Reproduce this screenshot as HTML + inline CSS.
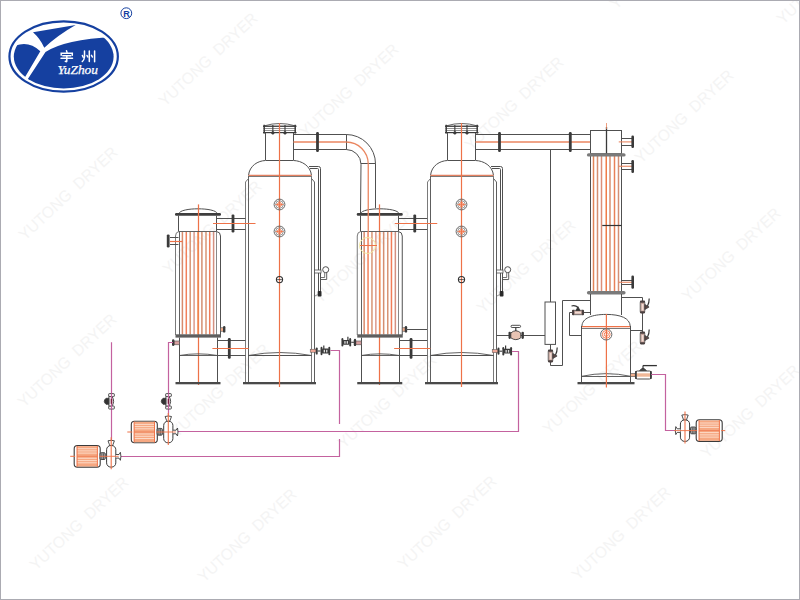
<!DOCTYPE html>
<html><head><meta charset="utf-8"><style>
html,body{margin:0;padding:0;background:#fff;}
body{width:800px;height:600px;overflow:hidden;position:relative;}
svg{position:absolute;left:0;top:0;}
</style></head><body>
<svg width="800" height="600" viewBox="0 0 800 600">
<rect x="0" y="0" width="800" height="600" fill="#fff"/>
<text x="616" y="10" transform="rotate(-43 616 10)" font-family="Liberation Sans, sans-serif" font-size="16" textLength="128" lengthAdjust="spacingAndGlyphs" fill="#f4f4f4">YUTONG&#160;&#160;DRYER</text>
<text x="783" y="25" transform="rotate(-43 783 25)" font-family="Liberation Sans, sans-serif" font-size="16" textLength="128" lengthAdjust="spacingAndGlyphs" fill="#f4f4f4">YUTONG&#160;&#160;DRYER</text>
<text x="24" y="408" transform="rotate(-43 24 408)" font-family="Liberation Sans, sans-serif" font-size="16" textLength="128" lengthAdjust="spacingAndGlyphs" fill="#f4f4f4">YUTONG&#160;&#160;DRYER</text>
<text x="177" y="438" transform="rotate(-43 177 438)" font-family="Liberation Sans, sans-serif" font-size="16" textLength="128" lengthAdjust="spacingAndGlyphs" fill="#f4f4f4">YUTONG&#160;&#160;DRYER</text>
<text x="320" y="304" transform="rotate(-43 320 304)" font-family="Liberation Sans, sans-serif" font-size="16" textLength="128" lengthAdjust="spacingAndGlyphs" fill="#f4f4f4">YUTONG&#160;&#160;DRYER</text>
<text x="483" y="314" transform="rotate(-43 483 314)" font-family="Liberation Sans, sans-serif" font-size="16" textLength="128" lengthAdjust="spacingAndGlyphs" fill="#f4f4f4">YUTONG&#160;&#160;DRYER</text>
<text x="344" y="449" transform="rotate(-43 344 449)" font-family="Liberation Sans, sans-serif" font-size="16" textLength="128" lengthAdjust="spacingAndGlyphs" fill="#f4f4f4">YUTONG&#160;&#160;DRYER</text>
<text x="25" y="241" transform="rotate(-43 25 241)" font-family="Liberation Sans, sans-serif" font-size="16" textLength="128" lengthAdjust="spacingAndGlyphs" fill="#f4f4f4">YUTONG&#160;&#160;DRYER</text>
<text x="165" y="107" transform="rotate(-43 165 107)" font-family="Liberation Sans, sans-serif" font-size="16" textLength="128" lengthAdjust="spacingAndGlyphs" fill="#f4f4f4">YUTONG&#160;&#160;DRYER</text>
<text x="306" y="138" transform="rotate(-43 306 138)" font-family="Liberation Sans, sans-serif" font-size="16" textLength="128" lengthAdjust="spacingAndGlyphs" fill="#f4f4f4">YUTONG&#160;&#160;DRYER</text>
<text x="471" y="151" transform="rotate(-43 471 151)" font-family="Liberation Sans, sans-serif" font-size="16" textLength="128" lengthAdjust="spacingAndGlyphs" fill="#f4f4f4">YUTONG&#160;&#160;DRYER</text>
<text x="641" y="164" transform="rotate(-43 641 164)" font-family="Liberation Sans, sans-serif" font-size="16" textLength="128" lengthAdjust="spacingAndGlyphs" fill="#f4f4f4">YUTONG&#160;&#160;DRYER</text>
<text x="688" y="302" transform="rotate(-43 688 302)" font-family="Liberation Sans, sans-serif" font-size="16" textLength="128" lengthAdjust="spacingAndGlyphs" fill="#f4f4f4">YUTONG&#160;&#160;DRYER</text>
<text x="549" y="435" transform="rotate(-43 549 435)" font-family="Liberation Sans, sans-serif" font-size="16" textLength="128" lengthAdjust="spacingAndGlyphs" fill="#f4f4f4">YUTONG&#160;&#160;DRYER</text>
<text x="36" y="571" transform="rotate(-43 36 571)" font-family="Liberation Sans, sans-serif" font-size="16" textLength="128" lengthAdjust="spacingAndGlyphs" fill="#f4f4f4">YUTONG&#160;&#160;DRYER</text>
<text x="204" y="583" transform="rotate(-43 204 583)" font-family="Liberation Sans, sans-serif" font-size="16" textLength="128" lengthAdjust="spacingAndGlyphs" fill="#f4f4f4">YUTONG&#160;&#160;DRYER</text>
<text x="404" y="570" transform="rotate(-43 404 570)" font-family="Liberation Sans, sans-serif" font-size="16" textLength="128" lengthAdjust="spacingAndGlyphs" fill="#f4f4f4">YUTONG&#160;&#160;DRYER</text>
<text x="578" y="581" transform="rotate(-43 578 581)" font-family="Liberation Sans, sans-serif" font-size="16" textLength="128" lengthAdjust="spacingAndGlyphs" fill="#f4f4f4">YUTONG&#160;&#160;DRYER</text>
<text x="707" y="459" transform="rotate(-43 707 459)" font-family="Liberation Sans, sans-serif" font-size="16" textLength="128" lengthAdjust="spacingAndGlyphs" fill="#f4f4f4">YUTONG&#160;&#160;DRYER</text>
<text x="169" y="275" transform="rotate(-43 169 275)" font-family="Liberation Sans, sans-serif" font-size="16" textLength="128" lengthAdjust="spacingAndGlyphs" fill="#f4f4f4">YUTONG&#160;&#160;DRYER</text>
<path d="M264.5,125.8 Q279.5,121.2 295,125.8" stroke="#555" stroke-width="0.9" fill="none" />
<rect x="263" y="125.6" width="33.5" height="1.3" fill="#3a3a3a" stroke="none" stroke-width="1" rx="0" />
<line x1="263.5" y1="128.5" x2="296" y2="128.5" stroke="#777" stroke-width="0.8"/>
<line x1="263.5" y1="130.5" x2="296" y2="130.5" stroke="#777" stroke-width="0.8"/>
<rect x="263" y="132" width="33.5" height="1.2" fill="#3a3a3a" stroke="none" stroke-width="1" rx="0" />
<line x1="264.2" y1="124.8" x2="264.2" y2="133.5" stroke="#3a3a3a" stroke-width="1.5"/>
<line x1="295.2" y1="124.8" x2="295.2" y2="133.5" stroke="#3a3a3a" stroke-width="1.5"/>
<line x1="272.85" y1="125" x2="272.85" y2="133" stroke="#3a3a3a" stroke-width="1.1"/>
<circle cx="272.85" cy="132.9" r="1.4" stroke="#3a3a3a" stroke-width="0.5" fill="#3a3a3a"/>
<line x1="285" y1="125" x2="285" y2="133" stroke="#3a3a3a" stroke-width="1.1"/>
<circle cx="285" cy="132.9" r="1.4" stroke="#3a3a3a" stroke-width="0.5" fill="#3a3a3a"/>
<line x1="265.5" y1="133" x2="265.5" y2="160" stroke="#505050" stroke-width="1.0"/>
<line x1="293.5" y1="133" x2="293.5" y2="160" stroke="#505050" stroke-width="1.0"/>
<line x1="265.5" y1="160.5" x2="293.5" y2="160.5" stroke="#505050" stroke-width="1.0"/>
<path d="M248.5,175.5 C249.5,165.5 258,160.8 265.5,160.5" stroke="#505050" stroke-width="1.0" fill="none" />
<path d="M293.5,160.5 C301.5,160.8 310.5,165.5 311.5,175.5" stroke="#505050" stroke-width="1.0" fill="none" />
<line x1="248.5" y1="176.5" x2="311.5" y2="176.5" stroke="#7a7a7a" stroke-width="1.0"/>
<line x1="248.5" y1="175.3" x2="311.5" y2="175.3" stroke="#e48060" stroke-width="1.3"/>
<line x1="248.5" y1="176" x2="248.5" y2="383" stroke="#5e5e5e" stroke-width="1.0"/>
<line x1="311.5" y1="176" x2="311.5" y2="383" stroke="#7a7a7a" stroke-width="1.0"/>
<path d="M248.5,178.5 L245.5,182 L245.5,383" stroke="#7a7a7a" stroke-width="1.0" fill="none" />
<path d="M311.5,178.5 L314.5,182 L314.5,383" stroke="#5e5e5e" stroke-width="1.0" fill="none" />
<rect x="243" y="382" width="73" height="2.3" fill="#4a4a4a" stroke="none" stroke-width="1" rx="0" />
<path d="M248.5,355.5 Q279.5,349.5 311.5,355.5" stroke="#505050" stroke-width="0.9" fill="none" />
<line x1="248.5" y1="355.5" x2="311.5" y2="355.5" stroke="#505050" stroke-width="1.0"/>
<line x1="279.5" y1="123" x2="279.5" y2="387" stroke="#ee7248" stroke-width="1.2"/>
<circle cx="279.5" cy="204.5" r="5.4" stroke="#666" stroke-width="1.0" fill="none"/>
<circle cx="279.5" cy="204.5" r="3.8" stroke="#777" stroke-width="0.8" fill="none"/>
<circle cx="279.5" cy="204.5" r="2.0" stroke="#ee7248" stroke-width="1.0" fill="none"/>
<line x1="275.5" y1="204.5" x2="283.5" y2="204.5" stroke="#ee7248" stroke-width="0.8"/>
<circle cx="279.5" cy="231.5" r="5.4" stroke="#666" stroke-width="1.0" fill="none"/>
<circle cx="279.5" cy="231.5" r="3.8" stroke="#777" stroke-width="0.8" fill="none"/>
<circle cx="279.5" cy="231.5" r="2.0" stroke="#ee7248" stroke-width="1.0" fill="none"/>
<line x1="275.5" y1="231.5" x2="283.5" y2="231.5" stroke="#ee7248" stroke-width="0.8"/>
<circle cx="279.5" cy="279.6" r="3.1" stroke="#333" stroke-width="1.1" fill="none"/>
<line x1="277.1" y1="279.6" x2="281.9" y2="279.6" stroke="#333" stroke-width="0.8"/>
<path d="M309,166.5 L318.5,166.5 Q320.5,166.5 320.5,168.5 L320.5,292" stroke="#505050" stroke-width="1.0" fill="none" />
<path d="M310,168.5 L317.5,168.5 Q318.5,168.5 318.5,169.5 L318.5,292" stroke="#505050" stroke-width="1.0" fill="none" />
<rect x="317.7" y="291" width="3.8" height="5.5" fill="#2a2a2a" stroke="none" stroke-width="1" rx="0.8" />
<line x1="315" y1="296" x2="317.7" y2="294.5" stroke="#666" stroke-width="0.7"/>
<rect x="314.5" y="270" width="6.5" height="3" fill="#fff" stroke="#505050" stroke-width="0.8" rx="0" />
<circle cx="325.7" cy="269.7" r="3" stroke="#505050" stroke-width="1.0" fill="#fff"/>
<path d="M326.7,272.7 L326.7,279.5 L320.7,279.5" stroke="#505050" stroke-width="0.9" fill="none" />
<path d="M324.7,272.7 L324.7,277.5 L320.7,277.5" stroke="#505050" stroke-width="0.8" fill="none" />
<line x1="293.5" y1="134.5" x2="346.25" y2="134.5" stroke="#505050" stroke-width="1.0"/>
<line x1="293.5" y1="149.5" x2="346.25" y2="149.5" stroke="#505050" stroke-width="1.0"/>
<line x1="293.5" y1="142" x2="346.25" y2="142" stroke="#ea8660" stroke-width="1.3"/>
<rect x="316.1" y="132" width="2.8" height="20" fill="#3a3a3a" stroke="none" stroke-width="1" rx="1.2" />
<path d="M446.5,125.8 Q461.5,121.2 477,125.8" stroke="#555" stroke-width="0.9" fill="none" />
<rect x="445" y="125.6" width="33.5" height="1.3" fill="#3a3a3a" stroke="none" stroke-width="1" rx="0" />
<line x1="445.5" y1="128.5" x2="478" y2="128.5" stroke="#777" stroke-width="0.8"/>
<line x1="445.5" y1="130.5" x2="478" y2="130.5" stroke="#777" stroke-width="0.8"/>
<rect x="445" y="132" width="33.5" height="1.2" fill="#3a3a3a" stroke="none" stroke-width="1" rx="0" />
<line x1="446.2" y1="124.8" x2="446.2" y2="133.5" stroke="#3a3a3a" stroke-width="1.5"/>
<line x1="477.2" y1="124.8" x2="477.2" y2="133.5" stroke="#3a3a3a" stroke-width="1.5"/>
<line x1="454.85" y1="125" x2="454.85" y2="133" stroke="#3a3a3a" stroke-width="1.1"/>
<circle cx="454.85" cy="132.9" r="1.4" stroke="#3a3a3a" stroke-width="0.5" fill="#3a3a3a"/>
<line x1="467" y1="125" x2="467" y2="133" stroke="#3a3a3a" stroke-width="1.1"/>
<circle cx="467" cy="132.9" r="1.4" stroke="#3a3a3a" stroke-width="0.5" fill="#3a3a3a"/>
<line x1="447.5" y1="133" x2="447.5" y2="160" stroke="#505050" stroke-width="1.0"/>
<line x1="475.5" y1="133" x2="475.5" y2="160" stroke="#505050" stroke-width="1.0"/>
<line x1="447.5" y1="160.5" x2="475.5" y2="160.5" stroke="#505050" stroke-width="1.0"/>
<path d="M430.5,175.5 C431.5,165.5 440,160.8 447.5,160.5" stroke="#505050" stroke-width="1.0" fill="none" />
<path d="M475.5,160.5 C483.5,160.8 492.5,165.5 493.5,175.5" stroke="#505050" stroke-width="1.0" fill="none" />
<line x1="430.5" y1="176.5" x2="493.5" y2="176.5" stroke="#7a7a7a" stroke-width="1.0"/>
<line x1="430.5" y1="175.3" x2="493.5" y2="175.3" stroke="#e48060" stroke-width="1.3"/>
<line x1="430.5" y1="176" x2="430.5" y2="383" stroke="#5e5e5e" stroke-width="1.0"/>
<line x1="493.5" y1="176" x2="493.5" y2="383" stroke="#7a7a7a" stroke-width="1.0"/>
<path d="M430.5,178.5 L427.5,182 L427.5,383" stroke="#7a7a7a" stroke-width="1.0" fill="none" />
<path d="M493.5,178.5 L496.5,182 L496.5,383" stroke="#5e5e5e" stroke-width="1.0" fill="none" />
<rect x="425" y="382" width="73" height="2.3" fill="#4a4a4a" stroke="none" stroke-width="1" rx="0" />
<path d="M430.5,355.5 Q461.5,349.5 493.5,355.5" stroke="#505050" stroke-width="0.9" fill="none" />
<line x1="430.5" y1="355.5" x2="493.5" y2="355.5" stroke="#505050" stroke-width="1.0"/>
<line x1="461.5" y1="123" x2="461.5" y2="387" stroke="#ee7248" stroke-width="1.2"/>
<circle cx="461.5" cy="204.5" r="5.4" stroke="#666" stroke-width="1.0" fill="none"/>
<circle cx="461.5" cy="204.5" r="3.8" stroke="#777" stroke-width="0.8" fill="none"/>
<circle cx="461.5" cy="204.5" r="2.0" stroke="#ee7248" stroke-width="1.0" fill="none"/>
<line x1="457.5" y1="204.5" x2="465.5" y2="204.5" stroke="#ee7248" stroke-width="0.8"/>
<circle cx="461.5" cy="231.5" r="5.4" stroke="#666" stroke-width="1.0" fill="none"/>
<circle cx="461.5" cy="231.5" r="3.8" stroke="#777" stroke-width="0.8" fill="none"/>
<circle cx="461.5" cy="231.5" r="2.0" stroke="#ee7248" stroke-width="1.0" fill="none"/>
<line x1="457.5" y1="231.5" x2="465.5" y2="231.5" stroke="#ee7248" stroke-width="0.8"/>
<circle cx="461.5" cy="279.6" r="3.1" stroke="#333" stroke-width="1.1" fill="none"/>
<line x1="459.1" y1="279.6" x2="463.9" y2="279.6" stroke="#333" stroke-width="0.8"/>
<path d="M491,166.5 L500.5,166.5 Q502.5,166.5 502.5,168.5 L502.5,292" stroke="#505050" stroke-width="1.0" fill="none" />
<path d="M492,168.5 L499.5,168.5 Q500.5,168.5 500.5,169.5 L500.5,292" stroke="#505050" stroke-width="1.0" fill="none" />
<rect x="499.7" y="291" width="3.8" height="5.5" fill="#2a2a2a" stroke="none" stroke-width="1" rx="0.8" />
<line x1="497" y1="296" x2="499.7" y2="294.5" stroke="#666" stroke-width="0.7"/>
<rect x="496.5" y="270" width="6.5" height="3" fill="#fff" stroke="#505050" stroke-width="0.8" rx="0" />
<circle cx="507.7" cy="269.7" r="3" stroke="#505050" stroke-width="1.0" fill="#fff"/>
<path d="M508.7,272.7 L508.7,279.5 L502.7,279.5" stroke="#505050" stroke-width="0.9" fill="none" />
<path d="M506.7,272.7 L506.7,277.5 L502.7,277.5" stroke="#505050" stroke-width="0.8" fill="none" />
<line x1="475.5" y1="134.5" x2="590.5" y2="134.5" stroke="#505050" stroke-width="1.0"/>
<line x1="475.5" y1="149.5" x2="590.5" y2="149.5" stroke="#505050" stroke-width="1.0"/>
<line x1="475.5" y1="142" x2="590.5" y2="142" stroke="#ea8660" stroke-width="1.3"/>
<rect x="498.1" y="132" width="2.8" height="20" fill="#3a3a3a" stroke="none" stroke-width="1" rx="1.2" />
<path d="M179,213.6 C180,207.2 216,207.2 217.2,213.6" stroke="#505050" stroke-width="1.0" fill="none" />
<rect x="175" y="213" width="46" height="2.8" fill="#3e3e3e" stroke="none" stroke-width="1" rx="1.2" />
<line x1="198.5" y1="204.4" x2="198.5" y2="385" stroke="#ee7248" stroke-width="1.25"/>
<line x1="178.5" y1="215.5" x2="178.5" y2="231.5" stroke="#505050" stroke-width="1.0"/>
<line x1="216.5" y1="215.5" x2="216.5" y2="231.5" stroke="#505050" stroke-width="1.0"/>
<line x1="178.5" y1="231.5" x2="216.5" y2="231.5" stroke="#505050" stroke-width="0.9"/>
<path d="M179,231.5 Q175.5,232 175.5,236 L175.5,335" stroke="#7a7a7a" stroke-width="1.0" fill="none" />
<path d="M216.5,231.5 Q220.5,232 220.5,236 L220.5,335" stroke="#505050" stroke-width="1.0" fill="none" />
<line x1="179.5" y1="232" x2="179.5" y2="335" stroke="#505050" stroke-width="0.9"/>
<line x1="216.5" y1="232" x2="216.5" y2="335" stroke="#7a7a7a" stroke-width="0.9"/>
<line x1="182.4" y1="232" x2="182.4" y2="334.5" stroke="#d88a6c" stroke-width="1.5"/>
<line x1="186.3" y1="232" x2="186.3" y2="334.5" stroke="#f2805a" stroke-width="1.5"/>
<line x1="190.2" y1="232" x2="190.2" y2="334.5" stroke="#d89474" stroke-width="1.5"/>
<line x1="194.1" y1="232" x2="194.1" y2="334.5" stroke="#dc9a8c" stroke-width="1.5"/>
<line x1="198" y1="232" x2="198" y2="334.5" stroke="#f08a52" stroke-width="1.5"/>
<line x1="201.9" y1="232" x2="201.9" y2="334.5" stroke="#d48e70" stroke-width="1.5"/>
<line x1="206" y1="232" x2="206" y2="334.5" stroke="#d89474" stroke-width="1.5"/>
<line x1="209.7" y1="232" x2="209.7" y2="334.5" stroke="#f07c58" stroke-width="1.5"/>
<line x1="213.6" y1="232" x2="213.6" y2="334.5" stroke="#d49080" stroke-width="1.5"/>
<rect x="175.5" y="334.3" width="45.5" height="3.3" fill="#5e5e5e" stroke="none" stroke-width="1" rx="0" />
<line x1="179.5" y1="337.5" x2="179.5" y2="383" stroke="#505050" stroke-width="1.0"/>
<line x1="217.5" y1="337.5" x2="217.5" y2="383" stroke="#505050" stroke-width="1.0"/>
<path d="M179.5,355.5 Q198,352.2 217.5,355.5" stroke="#505050" stroke-width="0.9" fill="none" />
<line x1="179.5" y1="355.5" x2="217.5" y2="355.5" stroke="#505050" stroke-width="0.9"/>
<rect x="175.5" y="382" width="45" height="2.3" fill="#4a4a4a" stroke="none" stroke-width="1" rx="0" />
<line x1="216.5" y1="218.5" x2="245.5" y2="218.5" stroke="#505050" stroke-width="1.0"/>
<line x1="216.5" y1="229.5" x2="245.5" y2="229.5" stroke="#505050" stroke-width="1.0"/>
<rect x="231.6" y="214.4" width="2.8" height="18.099999999999994" fill="#3a3a3a" stroke="none" stroke-width="1" rx="1.2" />
<line x1="213" y1="223.5" x2="255.5" y2="223.5" stroke="#ee7248" stroke-width="1.2"/>
<line x1="217.5" y1="340.5" x2="245.5" y2="340.5" stroke="#505050" stroke-width="1.0"/>
<line x1="217.5" y1="355.5" x2="245.5" y2="355.5" stroke="#505050" stroke-width="1.0"/>
<rect x="227.9" y="338" width="2.8" height="20.80000000000001" fill="#3a3a3a" stroke="none" stroke-width="1" rx="1.2" />
<line x1="212.4" y1="348.5" x2="248.6" y2="348.5" stroke="#ee7248" stroke-width="1.2"/>
<rect x="220.5" y="327.8" width="3.2" height="3.4" fill="#f3b090" stroke="#505050" stroke-width="0.6" rx="0" />
<rect x="223.0" y="326" width="2.4" height="6.600000000000023" fill="#3a3a3a" stroke="none" stroke-width="1" rx="1.2" />
<rect x="174" y="341" width="5.5" height="3.8" fill="#d8a0a0" stroke="#505050" stroke-width="0.6" rx="0" />
<rect x="172.0" y="339.2" width="2.4" height="6.800000000000011" fill="#3a3a3a" stroke="none" stroke-width="1" rx="1.2" />
<line x1="170" y1="237.5" x2="178.5" y2="237.5" stroke="#505050" stroke-width="1.0"/>
<line x1="170" y1="244.5" x2="178.5" y2="244.5" stroke="#505050" stroke-width="1.0"/>
<line x1="170" y1="241.5" x2="182.4" y2="241.5" stroke="#ee7248" stroke-width="1.2"/>
<rect x="166.79999999999998" y="234.4" width="2.8" height="13.099999999999994" fill="#3a3a3a" stroke="none" stroke-width="1" rx="1.2" />
<path d="M360.75,213.6 C361.75,207.2 397.75,207.2 398.95,213.6" stroke="#505050" stroke-width="1.0" fill="none" />
<rect x="356.75" y="213" width="46" height="2.8" fill="#3e3e3e" stroke="none" stroke-width="1" rx="1.2" />
<line x1="379.5" y1="204.4" x2="379.5" y2="385" stroke="#ee7248" stroke-width="1.25"/>
<line x1="360.5" y1="215.5" x2="360.5" y2="231.5" stroke="#505050" stroke-width="1.0"/>
<line x1="398.5" y1="215.5" x2="398.5" y2="231.5" stroke="#505050" stroke-width="1.0"/>
<line x1="360.25" y1="231.5" x2="398.25" y2="231.5" stroke="#505050" stroke-width="0.9"/>
<path d="M360.75,231.5 Q357.25,232 357.25,236 L357.25,335" stroke="#7a7a7a" stroke-width="1.0" fill="none" />
<path d="M398.25,231.5 Q402.25,232 402.25,236 L402.25,335" stroke="#505050" stroke-width="1.0" fill="none" />
<line x1="361.5" y1="232" x2="361.5" y2="335" stroke="#505050" stroke-width="0.9"/>
<line x1="398.5" y1="232" x2="398.5" y2="335" stroke="#7a7a7a" stroke-width="0.9"/>
<line x1="364.15" y1="232" x2="364.15" y2="334.5" stroke="#d88a6c" stroke-width="1.5"/>
<line x1="368.05" y1="232" x2="368.05" y2="334.5" stroke="#f2805a" stroke-width="1.5"/>
<line x1="371.95" y1="232" x2="371.95" y2="334.5" stroke="#d89474" stroke-width="1.5"/>
<line x1="375.85" y1="232" x2="375.85" y2="334.5" stroke="#dc9a8c" stroke-width="1.5"/>
<line x1="379.75" y1="232" x2="379.75" y2="334.5" stroke="#f08a52" stroke-width="1.5"/>
<line x1="383.65" y1="232" x2="383.65" y2="334.5" stroke="#d48e70" stroke-width="1.5"/>
<line x1="387.75" y1="232" x2="387.75" y2="334.5" stroke="#d89474" stroke-width="1.5"/>
<line x1="391.45" y1="232" x2="391.45" y2="334.5" stroke="#f07c58" stroke-width="1.5"/>
<line x1="395.35" y1="232" x2="395.35" y2="334.5" stroke="#d49080" stroke-width="1.5"/>
<rect x="357.25" y="334.3" width="45.5" height="3.3" fill="#5e5e5e" stroke="none" stroke-width="1" rx="0" />
<line x1="361.5" y1="337.5" x2="361.5" y2="383" stroke="#505050" stroke-width="1.0"/>
<line x1="399.5" y1="337.5" x2="399.5" y2="383" stroke="#505050" stroke-width="1.0"/>
<path d="M361.25,355.5 Q379.75,352.2 399.25,355.5" stroke="#505050" stroke-width="0.9" fill="none" />
<line x1="361.25" y1="355.5" x2="399.25" y2="355.5" stroke="#505050" stroke-width="0.9"/>
<rect x="357.25" y="382" width="45" height="2.3" fill="#4a4a4a" stroke="none" stroke-width="1" rx="0" />
<line x1="398.25" y1="218.5" x2="427.25" y2="218.5" stroke="#505050" stroke-width="1.0"/>
<line x1="398.25" y1="229.5" x2="427.25" y2="229.5" stroke="#505050" stroke-width="1.0"/>
<rect x="413.35" y="214.4" width="2.8" height="18.099999999999994" fill="#3a3a3a" stroke="none" stroke-width="1" rx="1.2" />
<line x1="394.75" y1="223.5" x2="437.25" y2="223.5" stroke="#ee7248" stroke-width="1.2"/>
<line x1="399.25" y1="340.5" x2="427.25" y2="340.5" stroke="#505050" stroke-width="1.0"/>
<line x1="399.25" y1="355.5" x2="427.25" y2="355.5" stroke="#505050" stroke-width="1.0"/>
<rect x="409.65000000000003" y="338" width="2.8" height="20.80000000000001" fill="#3a3a3a" stroke="none" stroke-width="1" rx="1.2" />
<line x1="394.15" y1="348.5" x2="430.35" y2="348.5" stroke="#ee7248" stroke-width="1.2"/>
<rect x="402.25" y="327.8" width="3.2" height="3.4" fill="#f3b090" stroke="#505050" stroke-width="0.6" rx="0" />
<rect x="404.75" y="326" width="2.4" height="6.600000000000023" fill="#3a3a3a" stroke="none" stroke-width="1" rx="1.2" />
<rect x="355.75" y="341" width="5.5" height="3.8" fill="#d8a0a0" stroke="#505050" stroke-width="0.6" rx="0" />
<rect x="353.75" y="339.2" width="2.4" height="6.800000000000011" fill="#3a3a3a" stroke="none" stroke-width="1" rx="1.2" />
<line x1="406" y1="329.5" x2="427" y2="329.5" stroke="#505050" stroke-width="1.0"/>
<circle cx="367.5" cy="245.5" r="8" stroke="#f3e9a0" stroke-width="1.0" fill="none"/>
<line x1="360" y1="245.5" x2="377" y2="245.5" stroke="#ee7248" stroke-width="1.0"/>
<path d="M346.25,134.5 A29.3,29.3 0 0 1 375.5,163.8 L375.5,208" stroke="#505050" stroke-width="1.0" fill="none" />
<path d="M346.25,149.5 A14.8,14.8 0 0 1 361,164.3 L360.5,213" stroke="#505050" stroke-width="1.0" fill="none" />
<line x1="346.5" y1="134.5" x2="346.5" y2="149.5" stroke="#505050" stroke-width="1.0"/>
<line x1="361" y1="163.5" x2="375.5" y2="163.5" stroke="#505050" stroke-width="1.0"/>
<path d="M346.25,142 A22,22 0 0 1 368.25,164 L368.25,232" stroke="#ea8660" stroke-width="1.3" fill="none" />
<rect x="568.9" y="132" width="2.8" height="20" fill="#3a3a3a" stroke="none" stroke-width="1" rx="1.2" />
<line x1="550.5" y1="149.5" x2="550.5" y2="302" stroke="#505050" stroke-width="1.0"/>
<rect x="590.5" y="130.5" width="31" height="23.2" fill="#fff" stroke="#505050" stroke-width="1.0" rx="0" />
<line x1="606.5" y1="127" x2="606.5" y2="154" stroke="#3a3a3a" stroke-width="1.3"/>
<line x1="606.5" y1="123" x2="606.5" y2="129" stroke="#ea8660" stroke-width="0.8"/>
<line x1="593.5" y1="156" x2="593.5" y2="291" stroke="#e08458" stroke-width="1.5"/>
<line x1="597.5" y1="156" x2="597.5" y2="291" stroke="#d48e70" stroke-width="1.5"/>
<line x1="601.5" y1="156" x2="601.5" y2="291" stroke="#dc8e78" stroke-width="1.5"/>
<line x1="606.25" y1="156" x2="606.25" y2="291" stroke="#f07c48" stroke-width="1.5"/>
<line x1="610" y1="156" x2="610" y2="291" stroke="#d88e70" stroke-width="1.5"/>
<line x1="614.5" y1="156" x2="614.5" y2="291" stroke="#e88058" stroke-width="1.5"/>
<line x1="618.5" y1="156" x2="618.5" y2="291" stroke="#d48e74" stroke-width="1.5"/>
<line x1="590.5" y1="154" x2="590.5" y2="292" stroke="#505050" stroke-width="1.0"/>
<line x1="621.5" y1="154" x2="621.5" y2="292" stroke="#505050" stroke-width="1.0"/>
<rect x="586.9" y="153.2" width="38.7" height="3.4" fill="#7a7a7a" stroke="none" stroke-width="1" rx="1.7" />
<rect x="586.9" y="291" width="38.7" height="3.4" fill="#7a7a7a" stroke="none" stroke-width="1" rx="1.7" />
<line x1="602.25" y1="225.5" x2="621.5" y2="225.5" stroke="#333" stroke-width="1.2"/>
<line x1="621.9" y1="138.5" x2="632" y2="138.5" stroke="#505050" stroke-width="1.0"/>
<line x1="621.9" y1="145.5" x2="632" y2="145.5" stroke="#505050" stroke-width="1.0"/>
<line x1="618.75" y1="141.9" x2="632" y2="141.9" stroke="#ea8660" stroke-width="1.1"/>
<rect x="631.4000000000001" y="135.6" width="2.6" height="12.400000000000006" fill="#3a3a3a" stroke="none" stroke-width="1" rx="1.2" />
<line x1="621.9" y1="163.5" x2="632" y2="163.5" stroke="#505050" stroke-width="1.0"/>
<line x1="621.9" y1="169.5" x2="632" y2="169.5" stroke="#505050" stroke-width="1.0"/>
<line x1="618.75" y1="166.25" x2="632" y2="166.25" stroke="#ea8660" stroke-width="1.1"/>
<rect x="631.4000000000001" y="160" width="2.6" height="13" fill="#3a3a3a" stroke="none" stroke-width="1" rx="1.2" />
<line x1="621.9" y1="280.5" x2="632" y2="280.5" stroke="#505050" stroke-width="1.0"/>
<line x1="621.9" y1="284.5" x2="632" y2="284.5" stroke="#505050" stroke-width="1.0"/>
<line x1="618.75" y1="282.25" x2="632" y2="282.25" stroke="#ea8660" stroke-width="1.1"/>
<rect x="631.4000000000001" y="275.6" width="2.6" height="13.149999999999977" fill="#3a3a3a" stroke="none" stroke-width="1" rx="1.2" />
<line x1="590.5" y1="294" x2="590.5" y2="315" stroke="#505050" stroke-width="1.0"/>
<line x1="621.5" y1="294" x2="621.5" y2="315" stroke="#505050" stroke-width="1.0"/>
<path d="M581.9,326.5 C582,318 592,314.5 606.25,314.4 C620.5,314.5 630,318 630.25,326.5" stroke="#505050" stroke-width="1.0" fill="none" />
<line x1="581.9" y1="326.6" x2="630.25" y2="326.6" stroke="#ee7248" stroke-width="1.4"/>
<line x1="581.9" y1="328.5" x2="630.25" y2="328.5" stroke="#7a7a7a" stroke-width="1.0"/>
<line x1="581.5" y1="326" x2="581.5" y2="383" stroke="#505050" stroke-width="1.0"/>
<line x1="630.5" y1="326" x2="630.5" y2="383" stroke="#505050" stroke-width="1.0"/>
<path d="M581.9,376.25 Q606.25,371 630.4,376.25" stroke="#505050" stroke-width="0.9" fill="none" />
<line x1="581.9" y1="376.5" x2="630.4" y2="376.5" stroke="#505050" stroke-width="0.9"/>
<rect x="577.5" y="382" width="57" height="2.3" fill="#4a4a4a" stroke="none" stroke-width="1" rx="0" />
<line x1="606.4" y1="314" x2="606.4" y2="387.5" stroke="#ee7248" stroke-width="1.2"/>
<circle cx="606.25" cy="334.4" r="5.6" stroke="#666" stroke-width="1.0" fill="none"/>
<circle cx="606.25" cy="334.4" r="3.9" stroke="#ee7248" stroke-width="0.9" fill="none"/>
<circle cx="606.25" cy="334.4" r="2" stroke="#ee7248" stroke-width="0.9" fill="none"/>
<rect x="545" y="302" width="10.5" height="42.4" fill="#fff" stroke="#505050" stroke-width="1.0" rx="0" />
<line x1="545" y1="335.5" x2="496.25" y2="335.5" stroke="#505050" stroke-width="1.0"/>
<line x1="550.5" y1="344.4" x2="550.5" y2="365.6" stroke="#505050" stroke-width="1.0"/>
<path d="M550.5,365.5 L562.5,365.5 L562.5,300.5 L590.6,300.5" stroke="#505050" stroke-width="1.0" fill="none" />
<path d="M590.6,312.5 L569.5,312.5 L569.5,335.5 L581.9,335.5" stroke="#505050" stroke-width="1.0" fill="none" />
<path d="M621.9,297.5 L642.5,297.5 L642.5,330.5 L630.4,330.5" stroke="#505050" stroke-width="1.0" fill="none" />
<line x1="642.5" y1="330" x2="642.5" y2="344" stroke="#505050" stroke-width="1.0"/>
<rect x="640.2" y="301.5" width="4.6" height="11" fill="#c4a29a" stroke="#555" stroke-width="0.8" rx="1.2" />
<rect x="641.7" y="304" width="1.8" height="6.5" fill="#f2dcd4" stroke="none" stroke-width="1" rx="0" />
<rect x="639.9" y="300.6" width="5.2" height="2.2" fill="#4a4040" stroke="none" stroke-width="1" rx="1.1" />
<rect x="639.9" y="311.2" width="5.2" height="2.2" fill="#4a4040" stroke="none" stroke-width="1" rx="1.1" />
<path d="M644.8,304.4 L649.1,307 L644.8,309.6 Z" stroke="#333" stroke-width="0.7" fill="#5a4444" />
<path d="M647.5,306 Q649.2,303 649.2,298.5" stroke="#333" stroke-width="1.2" fill="none" />
<rect x="640.2" y="332.5" width="4.6" height="11" fill="#c4a29a" stroke="#555" stroke-width="0.8" rx="1.2" />
<rect x="641.7" y="335" width="1.8" height="6.5" fill="#f2dcd4" stroke="none" stroke-width="1" rx="0" />
<rect x="639.9" y="331.6" width="5.2" height="2.2" fill="#4a4040" stroke="none" stroke-width="1" rx="1.1" />
<rect x="639.9" y="342.2" width="5.2" height="2.2" fill="#4a4040" stroke="none" stroke-width="1" rx="1.1" />
<path d="M644.8,335.4 L649.1,338 L644.8,340.6 Z" stroke="#333" stroke-width="0.7" fill="#5a4444" />
<path d="M647.5,337 Q649.2,334 649.2,329.5" stroke="#333" stroke-width="1.2" fill="none" />
<rect x="548.2" y="350.5" width="4.6" height="11" fill="#c4a29a" stroke="#555" stroke-width="0.8" rx="1.2" />
<rect x="549.7" y="353" width="1.8" height="6.5" fill="#f2dcd4" stroke="none" stroke-width="1" rx="0" />
<rect x="547.9" y="349.6" width="5.2" height="2.2" fill="#4a4040" stroke="none" stroke-width="1" rx="1.1" />
<rect x="547.9" y="360.2" width="5.2" height="2.2" fill="#4a4040" stroke="none" stroke-width="1" rx="1.1" />
<path d="M552.8,353.4 L557.1,356 L552.8,358.6 Z" stroke="#333" stroke-width="0.7" fill="#5a4444" />
<path d="M555.5,355 Q557.2,352 557.2,347.5" stroke="#333" stroke-width="1.2" fill="none" />
<rect x="572.5" y="310.3" width="11" height="4.4" fill="#c4a29a" stroke="#555" stroke-width="0.8" rx="1" />
<rect x="575.0" y="311.7" width="6" height="1.8" fill="#f2dcd4" stroke="none" stroke-width="1" rx="0" />
<rect x="572.0" y="309.7" width="2.2" height="5.6" fill="#4a4040" stroke="none" stroke-width="1" rx="1" />
<rect x="581.8" y="309.7" width="2.2" height="5.6" fill="#4a4040" stroke="none" stroke-width="1" rx="1" />
<path d="M576.0,310.5 L578.0,306.7 L580.0,310.5 Z" stroke="#3a3a3a" stroke-width="0.8" fill="#333" />
<path d="M578.0,307.5 Q575.5,305.0 571.5,306.0" stroke="#333" stroke-width="1.2" fill="none" />
<rect x="630.5" y="373.5" width="5" height="3.2" fill="#f0b090" stroke="#505050" stroke-width="0.6" rx="0" />
<rect x="635.4" y="371" width="16" height="8" fill="#fff" stroke="#3a3a3a" stroke-width="0.9" rx="2" />
<rect x="636.5" y="373.3" width="13.5" height="3.4" fill="#f0b898" stroke="none" stroke-width="1" rx="0" />
<line x1="636" y1="371" x2="636" y2="379" stroke="#3a3a3a" stroke-width="1.6"/>
<line x1="650.8" y1="371" x2="650.8" y2="379" stroke="#3a3a3a" stroke-width="1.6"/>
<path d="M639.5,371 Q643,365.5 646.5,371" stroke="#3a3a3a" stroke-width="0.9" fill="#444" />
<line x1="643" y1="369" x2="643" y2="365.6" stroke="#3a3a3a" stroke-width="1.2"/>
<line x1="643" y1="365.6" x2="656.9" y2="365.6" stroke="#333" stroke-width="1.3"/>
<rect x="508.5" y="331.7" width="2.4" height="7.2" fill="#3a3a3a" stroke="none" stroke-width="1" rx="1.1" />
<rect x="521.5" y="331.7" width="2.4" height="7.2" fill="#3a3a3a" stroke="none" stroke-width="1" rx="1.1" />
<path d="M510.8,333 Q515.8,328.5 520.8,333 L520.8,337.8 Q515.8,341.5 510.8,337.8 Z" stroke="#3a3a3a" stroke-width="0.9" fill="#e8c4b4" />
<line x1="515.8" y1="327" x2="515.8" y2="331" stroke="#3a3a3a" stroke-width="1.2"/>
<rect x="511" y="325.3" width="9.6" height="2.2" fill="#fff" stroke="#3a3a3a" stroke-width="0.9" rx="1.1" />
<rect x="310.2" y="349.2" width="6.5" height="3" fill="#f0a898" stroke="#505050" stroke-width="0.5" rx="0" />
<rect x="315.7" y="347.4" width="2.0" height="7.2000000000000455" fill="#3a3a3a" stroke="none" stroke-width="1" rx="1.2" />
<line x1="317.5" y1="351" x2="320.5" y2="351" stroke="#505050" stroke-width="1.2"/>
<rect x="320.55" y="346.8" width="1.9" height="8.399999999999977" fill="#3a3a3a" stroke="none" stroke-width="1" rx="1.2" />
<rect x="322.0" y="348.6" width="7" height="4.8" fill="#3a3a3a" stroke="none" stroke-width="1" rx="1" />
<rect x="323.7" y="349.8" width="1.3" height="2.6" fill="#ddd" stroke="none" stroke-width="1" rx="0" />
<rect x="326.1" y="349.8" width="1.3" height="2.6" fill="#ddd" stroke="none" stroke-width="1" rx="0" />
<line x1="323.8" y1="345.4" x2="323.8" y2="349" stroke="#3a3a3a" stroke-width="1.2"/>
<rect x="328.35" y="346.8" width="1.9" height="8.399999999999977" fill="#3a3a3a" stroke="none" stroke-width="1" rx="1.2" />
<rect x="492.2" y="349.6" width="6.5" height="3" fill="#f0a898" stroke="#505050" stroke-width="0.5" rx="0" />
<rect x="497.5" y="347.59999999999997" width="2.0" height="7.2000000000000455" fill="#3a3a3a" stroke="none" stroke-width="1" rx="1.2" />
<line x1="499.3" y1="351.2" x2="502.3" y2="351.2" stroke="#505050" stroke-width="1.2"/>
<rect x="502.35" y="347.0" width="1.9" height="8.399999999999977" fill="#3a3a3a" stroke="none" stroke-width="1" rx="1.2" />
<rect x="503.8" y="348.8" width="7" height="4.8" fill="#3a3a3a" stroke="none" stroke-width="1" rx="1" />
<rect x="505.5" y="350.0" width="1.3" height="2.6" fill="#ddd" stroke="none" stroke-width="1" rx="0" />
<rect x="507.90000000000003" y="350.0" width="1.3" height="2.6" fill="#ddd" stroke="none" stroke-width="1" rx="0" />
<line x1="505.6" y1="345.59999999999997" x2="505.6" y2="349.2" stroke="#3a3a3a" stroke-width="1.2"/>
<rect x="510.15000000000003" y="347.0" width="1.9" height="8.399999999999977" fill="#3a3a3a" stroke="none" stroke-width="1" rx="1.2" />
<rect x="354.0" y="338.7" width="2.0" height="7.2000000000000455" fill="#3a3a3a" stroke="none" stroke-width="1" rx="1.2" />
<line x1="351.2" y1="342.3" x2="354.2" y2="342.3" stroke="#505050" stroke-width="1.2"/>
<rect x="349.25" y="338.1" width="1.9" height="8.399999999999977" fill="#3a3a3a" stroke="none" stroke-width="1" rx="1.2" />
<rect x="342.7" y="339.90000000000003" width="7" height="4.8" fill="#3a3a3a" stroke="none" stroke-width="1" rx="1" />
<rect x="346.7" y="341.1" width="1.3" height="2.6" fill="#ddd" stroke="none" stroke-width="1" rx="0" />
<rect x="344.3" y="341.1" width="1.3" height="2.6" fill="#ddd" stroke="none" stroke-width="1" rx="0" />
<line x1="347.9" y1="336.7" x2="347.9" y2="340.3" stroke="#3a3a3a" stroke-width="1.2"/>
<rect x="341.45" y="338.1" width="1.9" height="8.399999999999977" fill="#3a3a3a" stroke="none" stroke-width="1" rx="1.2" />
<path d="M330.5,350.5 L339.5,350.5 L339.5,424" stroke="#c4629f" stroke-width="1.2" fill="none" />
<path d="M339.5,439 L339.5,456.5 L120.6,456.5" stroke="#c4629f" stroke-width="1.2" fill="none" />
<path d="M511.9,351.5 L518.5,351.5 L518.5,431.5 L177.5,431.5" stroke="#c4629f" stroke-width="1.2" fill="none" />
<line x1="111.5" y1="342.25" x2="111.5" y2="441.25" stroke="#c4629f" stroke-width="1.2"/>
<path d="M173,342.5 L168.5,342.5 L168.5,416.25" stroke="#c4629f" stroke-width="1.2" fill="none" />
<path d="M651.25,374.5 L665.5,374.5 L665.5,430.5 L676.9,430.5" stroke="#c4629f" stroke-width="1.2" fill="none" />
<rect x="108.7" y="393.6" width="5.6" height="3" fill="#fff" stroke="#3a3a3a" stroke-width="0.9" rx="0.6" />
<rect x="108.7" y="406.0" width="5.6" height="3" fill="#fff" stroke="#3a3a3a" stroke-width="0.9" rx="0.6" />
<path d="M108.9,396.6 L112.0,396.6 Q115.3,401.3 112.0,406.0 L108.9,406.0 Z" stroke="#3a3a3a" stroke-width="0.9" fill="#fff" />
<line x1="111.5" y1="393.3" x2="111.5" y2="409.3" stroke="#c4629f" stroke-width="1.2"/>
<rect x="110.7" y="398.8" width="1.6" height="5" fill="#7a2040" stroke="none" stroke-width="1" rx="0" />
<path d="M108.9,398.3 L106.0,398.3 Q102.5,401.3 106.0,404.3 L108.9,404.3 Z" stroke="#3a3a3a" stroke-width="0.8" fill="#333" />
<rect x="165.7" y="393.6" width="5.6" height="3" fill="#fff" stroke="#3a3a3a" stroke-width="0.9" rx="0.6" />
<rect x="165.7" y="406.0" width="5.6" height="3" fill="#fff" stroke="#3a3a3a" stroke-width="0.9" rx="0.6" />
<path d="M165.9,396.6 L169.0,396.6 Q172.3,401.3 169.0,406.0 L165.9,406.0 Z" stroke="#3a3a3a" stroke-width="0.9" fill="#fff" />
<line x1="168.5" y1="393.3" x2="168.5" y2="409.3" stroke="#c4629f" stroke-width="1.2"/>
<rect x="167.7" y="398.8" width="1.6" height="5" fill="#7a2040" stroke="none" stroke-width="1" rx="0" />
<path d="M165.9,398.3 L163.0,398.3 Q159.5,401.3 163.0,404.3 L165.9,404.3 Z" stroke="#3a3a3a" stroke-width="0.8" fill="#333" />
<rect x="74.2" y="445.5" width="26" height="21.6" fill="#fff" stroke="#3a3a3a" stroke-width="1.1" rx="3.2" />
<rect x="77.0" y="446.1" width="20.4" height="20.4" fill="#f6a882" stroke="none" stroke-width="1" rx="0" />
<line x1="77.2" y1="448.7" x2="97.2" y2="448.7" stroke="#fde0d0" stroke-width="0.9"/>
<line x1="77.2" y1="450.90000000000003" x2="97.2" y2="450.90000000000003" stroke="#fde0d0" stroke-width="0.9"/>
<line x1="77.2" y1="453.1" x2="97.2" y2="453.1" stroke="#fde0d0" stroke-width="0.9"/>
<line x1="77.2" y1="458.3" x2="97.2" y2="458.3" stroke="#fde0d0" stroke-width="0.9"/>
<line x1="77.2" y1="460.6" x2="97.2" y2="460.6" stroke="#fde0d0" stroke-width="0.9"/>
<line x1="77.2" y1="462.8" x2="97.2" y2="462.8" stroke="#fde0d0" stroke-width="0.9"/>
<line x1="77.0" y1="445.8" x2="77.0" y2="466.8" stroke="#ee6a3c" stroke-width="0.9"/>
<line x1="97.4" y1="445.8" x2="97.4" y2="466.8" stroke="#ee6a3c" stroke-width="0.9"/>
<rect x="100.0" y="452.7" width="5.3" height="6.8" fill="#aaa" stroke="#3a3a3a" stroke-width="0.9" rx="1.2" />
<line x1="101.8" y1="453.3" x2="101.8" y2="459.3" stroke="#333" stroke-width="0.6"/>
<line x1="103.5" y1="453.3" x2="103.5" y2="459.3" stroke="#333" stroke-width="0.6"/>
<rect x="106.60000000000001" y="445.5" width="9.2" height="21.6" fill="#fff" stroke="#3a3a3a" stroke-width="1.0" rx="4.2" />
<path d="M108.0,440.8 Q111.2,439.8 114.4,440.8 L112.9,444.8 L112.9,445.5 L109.5,445.5 L109.5,444.8 Z" stroke="#3a3a3a" stroke-width="0.9" fill="#fff" />
<path d="M115.8,454.5 L119.0,454.5 L120.39999999999999,452.3 Q121.39999999999999,456.3 120.39999999999999,460.3 L119.0,458.1 L115.8,458.1" stroke="#3a3a3a" stroke-width="0.9" fill="#fff" />
<line x1="111.2" y1="437.3" x2="111.2" y2="469.3" stroke="#ee7248" stroke-width="1.1"/>
<line x1="70.2" y1="456.3" x2="75.2" y2="456.3" stroke="#ee7248" stroke-width="1.0"/>
<line x1="77.2" y1="456.3" x2="97.2" y2="456.3" stroke="#ee7a50" stroke-width="0.8"/>
<line x1="99.2" y1="456.3" x2="118.7" y2="456.3" stroke="#ee7248" stroke-width="0.9"/>
<rect x="131.3" y="421.2" width="26" height="21.6" fill="#fff" stroke="#3a3a3a" stroke-width="1.1" rx="3.2" />
<rect x="134.10000000000002" y="421.8" width="20.4" height="20.4" fill="#f6a882" stroke="none" stroke-width="1" rx="0" />
<line x1="134.3" y1="424.4" x2="154.3" y2="424.4" stroke="#fde0d0" stroke-width="0.9"/>
<line x1="134.3" y1="426.6" x2="154.3" y2="426.6" stroke="#fde0d0" stroke-width="0.9"/>
<line x1="134.3" y1="428.8" x2="154.3" y2="428.8" stroke="#fde0d0" stroke-width="0.9"/>
<line x1="134.3" y1="434.0" x2="154.3" y2="434.0" stroke="#fde0d0" stroke-width="0.9"/>
<line x1="134.3" y1="436.3" x2="154.3" y2="436.3" stroke="#fde0d0" stroke-width="0.9"/>
<line x1="134.3" y1="438.5" x2="154.3" y2="438.5" stroke="#fde0d0" stroke-width="0.9"/>
<line x1="134.10000000000002" y1="421.5" x2="134.10000000000002" y2="442.5" stroke="#ee6a3c" stroke-width="0.9"/>
<line x1="154.5" y1="421.5" x2="154.5" y2="442.5" stroke="#ee6a3c" stroke-width="0.9"/>
<rect x="157.10000000000002" y="428.4" width="5.3" height="6.8" fill="#aaa" stroke="#3a3a3a" stroke-width="0.9" rx="1.2" />
<line x1="158.90000000000003" y1="429" x2="158.90000000000003" y2="435" stroke="#333" stroke-width="0.6"/>
<line x1="160.60000000000002" y1="429" x2="160.60000000000002" y2="435" stroke="#333" stroke-width="0.6"/>
<rect x="163.70000000000002" y="421.2" width="9.2" height="21.6" fill="#fff" stroke="#3a3a3a" stroke-width="1.0" rx="4.2" />
<path d="M165.10000000000002,416.5 Q168.3,415.5 171.5,416.5 L170.0,420.5 L170.0,421.2 L166.60000000000002,421.2 L166.60000000000002,420.5 Z" stroke="#3a3a3a" stroke-width="0.9" fill="#fff" />
<path d="M172.9,430.2 L176.1,430.2 L177.5,428 Q178.5,432 177.5,436 L176.1,433.8 L172.9,433.8" stroke="#3a3a3a" stroke-width="0.9" fill="#fff" />
<line x1="168.3" y1="413" x2="168.3" y2="445" stroke="#ee7248" stroke-width="1.1"/>
<line x1="127.30000000000001" y1="432" x2="132.3" y2="432" stroke="#ee7248" stroke-width="1.0"/>
<line x1="134.3" y1="432" x2="154.3" y2="432" stroke="#ee7a50" stroke-width="0.8"/>
<line x1="156.3" y1="432" x2="175.8" y2="432" stroke="#ee7248" stroke-width="0.9"/>
<rect x="696.2" y="419.8" width="26" height="21.6" fill="#fff" stroke="#3a3a3a" stroke-width="1.1" rx="3.2" />
<rect x="699.0" y="420.40000000000003" width="20.4" height="20.4" fill="#f6a882" stroke="none" stroke-width="1" rx="0" />
<line x1="699.2" y1="423.0" x2="719.2" y2="423.0" stroke="#fde0d0" stroke-width="0.9"/>
<line x1="699.2" y1="425.20000000000005" x2="719.2" y2="425.20000000000005" stroke="#fde0d0" stroke-width="0.9"/>
<line x1="699.2" y1="427.40000000000003" x2="719.2" y2="427.40000000000003" stroke="#fde0d0" stroke-width="0.9"/>
<line x1="699.2" y1="432.6" x2="719.2" y2="432.6" stroke="#fde0d0" stroke-width="0.9"/>
<line x1="699.2" y1="434.90000000000003" x2="719.2" y2="434.90000000000003" stroke="#fde0d0" stroke-width="0.9"/>
<line x1="699.2" y1="437.1" x2="719.2" y2="437.1" stroke="#fde0d0" stroke-width="0.9"/>
<line x1="699.0" y1="420.1" x2="699.0" y2="441.1" stroke="#ee6a3c" stroke-width="0.9"/>
<line x1="719.4000000000001" y1="420.1" x2="719.4000000000001" y2="441.1" stroke="#ee6a3c" stroke-width="0.9"/>
<rect x="690.5" y="427.0" width="5.3" height="6.8" fill="#aaa" stroke="#3a3a3a" stroke-width="0.9" rx="1.2" />
<line x1="692.3" y1="427.6" x2="692.3" y2="433.6" stroke="#333" stroke-width="0.6"/>
<line x1="694.0" y1="427.6" x2="694.0" y2="433.6" stroke="#333" stroke-width="0.6"/>
<rect x="680.4" y="419.8" width="9.2" height="21.6" fill="#fff" stroke="#3a3a3a" stroke-width="1.0" rx="4.2" />
<path d="M681.8,415.1 Q685,414.1 688.2,415.1 L686.7,419.1 L686.7,419.8 L683.3,419.8 L683.3,419.1 Z" stroke="#3a3a3a" stroke-width="0.9" fill="#fff" />
<path d="M680.4,428.8 L677.1999999999999,428.8 L675.8,426.6 Q674.8,430.6 675.8,434.6 L677.1999999999999,432.40000000000003 L680.4,432.40000000000003" stroke="#3a3a3a" stroke-width="0.9" fill="#fff" />
<line x1="685" y1="411.6" x2="685" y2="443.6" stroke="#ee7248" stroke-width="1.1"/>
<line x1="674" y1="430.6" x2="697.2" y2="430.6" stroke="#ee7248" stroke-width="0.9"/>
<line x1="699.2" y1="430.6" x2="719.2" y2="430.6" stroke="#ee7a50" stroke-width="0.8"/>
<line x1="721.2" y1="430.6" x2="725.2" y2="430.6" stroke="#ee7248" stroke-width="1.0"/>

<g>
 <ellipse cx="63.65" cy="56.5" rx="54.2" ry="35.2" fill="none" stroke="#1540a0" stroke-width="2.2"/>
 <clipPath id="ce"><ellipse cx="63.7" cy="56.6" rx="49.9" ry="31.9"/></clipPath>
 <g clip-path="url(#ce)" fill="#1540a0">
  <path d="M0,45.6 L15.5,45.6 Q29,40.5 40.3,51.2 L24.5,78 L0,78 Z"/>
  <path d="M27.2,80 L45.5,52 Q66,38 125,36.5 L125,100 L10,100 Z"/>
 </g>
 <path d="M33,32.3 L75.7,25 Q58,35 44.3,47.7 Q40,38.5 33,32.3 Z" fill="#1540a0"/>
 <g stroke="#fff" stroke-width="1.5" fill="none" stroke-linecap="round">
  <path d="M66.5,50.8 L67,52.4"/>
  <path d="M61.2,55.3 L61.2,53.2 L72.3,53.2 L72.3,55.3"/>
  <path d="M62.8,55.8 L70.8,55.8"/>
  <path d="M61,58.3 L72.5,58.3"/>
  <path d="M66.8,56 L66.8,61.3 Q66.8,62 65.3,61.3"/>
  <path d="M84.5,51 L84.5,57 Q84,60.5 82.3,61.5"/>
  <path d="M89.3,51 L89.3,61.5"/>
  <path d="M94.6,51 L94.6,61.8"/>
  <path d="M82.4,55.5 L83.2,57.3"/>
  <path d="M87,55.5 L87.8,57"/>
  <path d="M91.5,55.3 L92.4,57"/>
 </g>
 <text x="57.5" y="74" font-family="Liberation Serif, serif" font-style="italic" font-size="13" textLength="40.5" lengthAdjust="spacingAndGlyphs" fill="#fff" stroke="#fff" stroke-width="0.25">YuZhou</text>
 <circle cx="126.3" cy="13.2" r="5.4" fill="#fff" stroke="#1540a0" stroke-width="1"/>
 <text x="126.4" y="16.5" text-anchor="middle" font-family="Liberation Sans, sans-serif" font-weight="bold" font-size="9" fill="#1540a0">R</text>
</g>

<rect x="0.5" y="0.5" width="799" height="599" fill="none" stroke="#ababb2" stroke-width="1"/>
</svg>
</body></html>
